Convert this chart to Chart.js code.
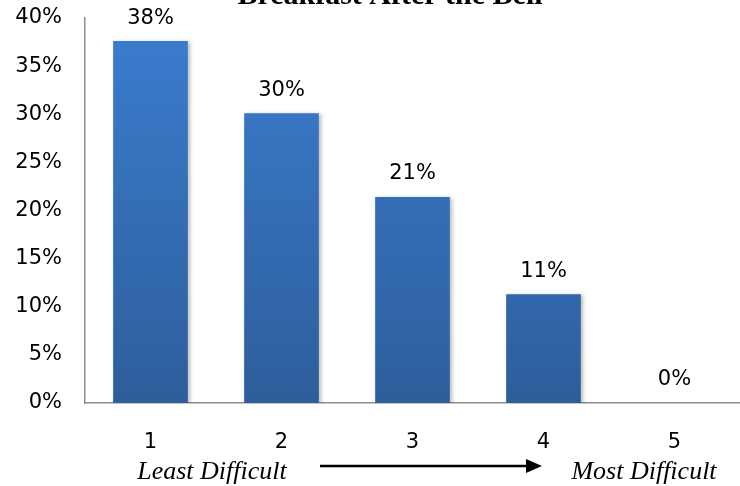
<!DOCTYPE html>
<html>
<head>
<meta charset="utf-8">
<script src="https://cdn.jsdelivr.net/npm/chart.js@4/dist/chart.umd.min.js"></script>
<style>
  html, body { margin: 0; padding: 0; background: #fff; }
  #wrap { width: 740px; height: 486px; position: relative; }
</style>
</head>
<body>
<div id="wrap"><canvas id="c" width="740" height="486"></canvas></div>
<script>
// Survey: how difficult is Breakfast After the Bell (1 = least, 5 = most)
const chartTitle = 'Breakfast After the Bell';
const categories = ['1', '2', '3', '4', '5'];
const shares = [37.6, 30.1, 21.4, 11.3, 0];
const yTicks = [0, 5, 10, 15, 20, 25, 30, 35, 40];
const scaleLeftLabel = 'Least Difficult';
const scaleRightLabel = 'Most Difficult';

const tickFont = { family: 'DejaVu Sans', size: 21 };

// Title sits mostly above the canvas edge, only its lower part shows
const titlePlugin = {
  id: 'topTitle',
  afterDraw(chart) {
    const ctx = chart.ctx;
    ctx.save();
    ctx.fillStyle = '#000';
    ctx.font = 'bold 30px "Liberation Serif"';
    ctx.textAlign = 'center';
    ctx.textBaseline = 'alphabetic';
    ctx.fillText(chartTitle, 390, 4);
    ctx.restore();
  }
};

// Percentage labels above each bar
const valueLabels = {
  id: 'valueLabels',
  afterDatasetsDraw(chart) {
    const ctx = chart.ctx;
    const meta = chart.getDatasetMeta(0);
    ctx.save();
    ctx.fillStyle = '#000';
    ctx.font = '21px "DejaVu Sans"';
    ctx.textAlign = 'center';
    ctx.textBaseline = 'middle';
    meta.data.forEach((bar, i) => {
      ctx.fillText(Math.round(shares[i]) + '%', bar.x, bar.y - 23);
    });
    ctx.restore();
  }
};

// Soft shadow behind the bars
const barShadow = {
  id: 'barShadow',
  beforeDatasetsDraw(chart) {
    const ctx = chart.ctx;
    ctx.save();
    ctx.shadowColor = 'rgba(0,0,0,0.28)';
    ctx.shadowBlur = 4;
    ctx.shadowOffsetX = 2;
    ctx.shadowOffsetY = 1;
  },
  afterDatasetsDraw(chart) {
    chart.ctx.restore();
  }
};

// Difficulty scale caption with arrow under the category axis
const difficultyCaption = {
  id: 'difficultyCaption',
  afterDraw(chart) {
    const ctx = chart.ctx;
    const y = 472;
    ctx.save();
    ctx.fillStyle = '#000';
    ctx.font = 'italic 26px "Liberation Serif"';
    ctx.textBaseline = 'middle';
    ctx.textAlign = 'center';
    ctx.fillText(scaleLeftLabel, 212, y);
    ctx.fillText(scaleRightLabel, 644, y);
    // arrow
    const ay = 466, x0 = 320, x1 = 542;
    ctx.strokeStyle = '#000';
    ctx.lineWidth = 2.5;
    ctx.beginPath();
    ctx.moveTo(x0, ay);
    ctx.lineTo(x1 - 14, ay);
    ctx.stroke();
    ctx.beginPath();
    ctx.moveTo(x1, ay);
    ctx.lineTo(x1 - 16, ay - 7);
    ctx.lineTo(x1 - 16, ay + 7);
    ctx.closePath();
    ctx.fill();
    ctx.restore();
  }
};

new Chart(document.getElementById('c'), {
  type: 'bar',
  data: {
    labels: categories,
    datasets: [{
      data: shares,
      backgroundColor(context) {
        const area = context.chart.chartArea;
        if (!area) return '#3570b8';
        const g = context.chart.ctx.createLinearGradient(0, area.top, 0, area.bottom);
        g.addColorStop(0, '#3b7dd0');
        g.addColorStop(1, '#2d5e9b');
        return g;
      },
      borderWidth: 0,
      categoryPercentage: 1,
      barPercentage: 0.57
    }]
  },
  options: {
    responsive: false,
    animation: false,
    devicePixelRatio: 1,
    layout: { padding: { top: 18, right: 0, bottom: 0, left: 0 } },
    plugins: {
      legend: { display: false },
      tooltip: { enabled: false },
      title: { display: false }
    },
    scales: {
      x: {
        grid: { display: false, drawTicks: false },
        border: { display: true, color: '#8c8c8c', width: 1.5 },
        ticks: { color: '#000', font: tickFont, padding: 27 },
        afterFit(scale) {
          scale.height = 83;
          scale.paddingLeft = 0;
          scale.paddingRight = 0;
        }
      },
      y: {
        min: 0,
        max: 40,
        afterBuildTicks(scale) { scale.ticks = yTicks.map(v => ({ value: v })); },
        grid: { display: false, drawTicks: false },
        border: { display: true, color: '#8c8c8c', width: 1.5 },
        ticks: {
          color: '#000',
          font: tickFont,
          padding: 23,
          callback: v => v + '%'
        },
        afterFit(scale) {
          scale.width = 85;
          scale.paddingTop = 0;
          scale.paddingBottom = 0;
        }
      }
    }
  },
  plugins: [barShadow, valueLabels, titlePlugin, difficultyCaption]
});
</script>
</body>
</html>
